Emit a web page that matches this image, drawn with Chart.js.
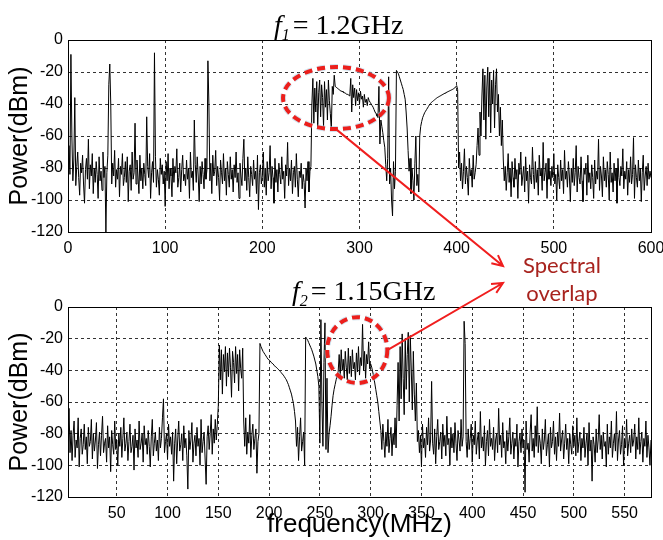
<!DOCTYPE html>
<html>
<head>
<meta charset="utf-8">
<script src="https://cdn.jsdelivr.net/npm/chart.js@4.4.1/dist/chart.umd.min.js"></script>
<style>
body{margin:0;background:#fff;}
#page{position:relative;width:663px;height:540px;overflow:hidden;background:#fff;}
.box{position:absolute;left:0;width:663px;}
.ttl{position:absolute;font-family:"Liberation Serif","Times New Roman",serif;font-size:28px;line-height:28px;color:#000;white-space:nowrap;}
.ttl .sub{position:relative;top:6px;font-size:16px;font-style:italic;margin-right:3px;}
#note{position:absolute;left:512px;top:251px;width:100px;text-align:center;font-family:Lato,"Open Sans",sans-serif;font-size:22px;line-height:28px;color:#a8231e;}
#overlay{position:absolute;left:0;top:0;pointer-events:none;}
</style>
</head>
<body>
<div id="page">
  <div class="box" style="top:0;height:262px"><canvas id="topChart" width="663" height="262"></canvas></div>
  <div class="box" style="top:270px;height:270px"><canvas id="bottomChart" width="663" height="270"></canvas></div>
  <div class="ttl" style="left:274px;top:11px"><i>f</i><span class="sub">1</span>= 1.2GHz</div>
  <div class="ttl" style="left:292px;top:277px"><i>f</i><span class="sub">2</span>= 1.15GHz</div>
  <div id="note">Spectral<br>overlap</div>
  <canvas id="overlay" width="663" height="540"></canvas>
</div>
<script>
// spectrum samples, 1 MHz apart
const stepMHz = 1;

// f1 = 1.2GHz, 0..600 MHz
const topStartMHz = 0;
const topPower = [
  -80,-66,-84,-9,-60,-88,-75,-36,-91,-79,-70,-86,-97,-77,-83,-72,-90,-102,-81,-74,
  -87,-62,-93,-78,-85,-71,-96,-80,-89,-76,-84,-99,-73,-88,-82,-94,-70,-86,-79,-120,
  -83,-72,-28,-15,-40,-90,-77,-85,-69,-92,-81,-87,-74,-98,-79,-84,-71,-91,-86,-76,
  -89,-73,-101,-82,-78,-94,-70,-87,-83,-52,-90,-75,-85,-96,-72,-88,-80,-93,-77,-84,
  -91,-48,-79,-86,-71,-99,-83,-76,-89,-8,-73,-92,-81,-87,-97,-74,-84,-78,-90,-82,
  -104,-76,-88,-71,-93,-80,-85,-98,-74,-89,-79,-83,-68,-92,-86,-77,-95,-81,-72,-88,
  -84,-91,-75,-87,-80,-99,-70,-86,-82,-94,-50,-78,-89,-73,-85,-101,-79,-90,-76,-84,
  -93,-74,-87,-81,-13,-40,-88,-77,-96,-72,-85,-82,-69,-91,-79,-86,-100,-75,-83,-90,
  -71,-88,-80,-97,-76,-84,-92,-73,-87,-81,-95,-78,-86,-70,-89,-83,-99,-77,-85,-91,
  -74,-62,-88,-80,-94,-73,-86,-98,-79,-84,-91,-75,-87,-82,-96,-72,-106,-83,-78,-90,
  -85,-70,-92,-80,-97,-76,-88,-83,-66,-93,-79,-86,-102,-74,-89,-81,-95,-77,-84,-90,
  -73,-87,-82,-99,-78,-85,-64,-91,-80,-88,-75,-96,-83,-79,-92,-71,-87,-98,-82,-86,
  -77,-93,-84,-89,-105,-80,-88,-76,-95,-82,-79,-40,-24,-52,-30,-45,-26,-55,-33,-25,
  -48,-28,-36,-54,-26,-42,-31,-50,-25,-38,-46,-56,-29,-34,-22,-29,-29.5,-30,-30.5,-31,
  -31.5,-32,-32,-32.5,-33,-33,-33.5,-34,-34,-34.5,-35,-24,-45,-28,-36,-30,-41,-31,-38,-33,
  -40,-32,-37,-35,-42,-34,-39,-37,-41,-36,-38,-39,-40,-41,-42,-43.5,-45,-46,-47.5,-48.5,
  -29,-65,-50,-54,-58,-63,-67,-78,-88,-74,-23,-90,-80,-100,-110,-76,-93,-82,-19,-20,
  -21,-23,-25,-27,-29,-31,-34,-37,-45,-55,-69,-82,-74,-96,-80,-88,-100,-77,-60,-91,
  -84,-95,-60,-54,-51,-48.5,-47,-45.5,-44.5,-43.5,-42.5,-41.5,-40.5,-39.7,-39,-38.5,-38,-37.5,-37,-36.5,
  -36,-35.7,-35.3,-35,-34.6,-34.3,-33.9,-33.6,-33.2,-32.9,-32.6,-32.3,-32,-31.7,-31.4,-31.1,-30.8,-30.4,-30,-29.3,
  -28.5,-31,-80,-70,-88,-77,-93,-82,-68,-90,-79,-86,-97,-74,-85,-81,-92,-72,-87,-83,
  -78,-66,-55,-72,-45,-60,-35,-18,-50,-22,-62,-30,-17,-48,-20,-58,-25,-40,-19,-55,
  -28,-18,-45,-34,-60,-42,-66,-50,-75,-88,-79,-94,-83,-71,-89,-80,-98,-76,-86,-92,
  -74,-87,-81,-99,-77,-84,-70,-91,-85,-79,-95,-73,-88,-82,-102,-78,-86,-90,-67,-84,
  -93,-76,-89,-81,-97,-72,-85,-80,-94,-64,-88,-83,-77,-99,-74,-87,-82,-91,-79,-86,
  -71,-90,-84,-100,-78,-86,-93,-75,-88,-81,-96,-69,-87,-82,-92,-76,-85,-101,-80,-89,
  -74,-91,-83,-66,-95,-79,-86,-90,-73,-88,-101,-80,-84,-77,-97,-72,-89,-83,-93,-78,
  -86,-99,-75,-90,-82,-87,-62,-94,-79,-85,-98,-73,-88,-81,-92,-76,-84,-100,-70,-89,
  -83,-95,-77,-88,-80,-102,-74,-86,-91,-79,-85,-68,-93,-82,-87,-76,-97,-81,-89,-73,
  -90,-84,-61,-99,-78,-86,-92,-75,-88,-80,-101,-83,-72,-94,-85,-79,-91,-77,-87,-82,
  -86
];

// f2 = 1.15GHz, 2..576 MHz
const bottomStartMHz = 2;
const bottomPower = [
  -86,-64,-92,-78,-97,-81,-72,-95,-84,-89,-70,-101,-83,-77,-93,-87,-74,-90,
  -82,-99,-76,-88,-85,-71,-96,-80,-91,-84,-73,-102,-87,-79,-94,-81,-69,-92,-86,-83,
  -98,-75,-89,-82,-104,-78,-87,-93,-72,-90,-84,-100,-80,-88,-76,-95,-83,-70,-91,-86,
  -79,-97,-85,-74,-92,-88,-81,-103,-77,-89,-84,-95,-72,-90,-86,-80,-98,-75,-87,-83,
  -93,-78,-88,-101,-82,-71,-94,-86,-79,-91,-84,-97,-76,-89,-83,-70,-58,-92,-85,-80,
  -96,-74,-88,-82,-93,-79,-110,-86,-77,-99,-84,-72,-91,-87,-80,-97,-75,-89,-83,-94,
  -115,-78,-90,-84,-73,-98,-86,-81,-94,-76,-88,-83,-100,-71,-92,-85,-79,-96,-112,-82,
  -75,-90,-80,-68,-93,-77,-86,-71,-84,-74,-62,-24,-46,-27,-55,-30,-41,-25,-50,-29,
  -44,-26,-38,-57,-28,-35,-48,-25,-42,-30,-53,-27,-39,-45,-26,-72,-88,-70,-93,-79,
  -86,-68,-95,-81,-74,-90,-83,-77,-105,-85,-80,-23,-25,-26.5,-28,-29,-30,-31,-32,-33,
  -33.5,-34,-35,-35.5,-36,-37,-37.5,-38,-38.7,-39.3,-40,-40.7,-41.5,-42.3,-43,-44,-45,-46,-47.5,-49,
  -51,-53,-55,-58,-61,-66,-72,-88,-76,-97,-82,-70,-91,-85,-79,-100,-19,-20,-21,-22.5,
  -24,-25.5,-27,-29,-31,-33.5,-36,-40,-44,-50,-86,-8,-60,-88,-35,-10,-90,-45,-92,-80,
  -75,-69,-62,-56,-52,-49,-46,-43,-41,-30,-44,-27,-40,-33,-45,-28,-38,-46,-26,-42,
  -31,-44,-27,-39,-35,-46,-29,-41,-25,-43,-32,-37,-11,-40,-28,-45,-30,-36,-22,-39,
  -36,-38,-41,-44,-48,-52,-56,-60,-66,-72,-78,-90,-74,-85,-95,-79,-88,-71,-92,-83,
  -76,-94,-80,-87,-70,-89,-62,-35,-72,-25,-58,-17,-45,-68,-20,-52,-30,-16,-60,-18,
  -40,-65,-28,-55,-72,-48,-85,-78,-92,-81,-101,-74,-89,-83,-95,-76,-87,-70,-91,-84,
  -47,-86,-93,-77,-99,-82,-71,-90,-85,-79,-96,-74,-88,-81,-94,-69,-87,-83,-100,-76,
  -89,-80,-92,-73,-86,-97,-78,-84,-91,-71,-88,-82,-9,-23,-85,-95,-77,-90,-83,-74,
  -98,-81,-87,-72,-93,-84,-79,-96,-66,-89,-82,-91,-75,-100,-85,-78,-94,-71,-88,-83,
  -90,-76,-97,-84,-80,-92,-64,-87,-81,-95,-73,-89,-85,-99,-78,-91,-82,-70,-93,-86,
  -79,-96,-83,-88,-74,-101,-85,-80,-92,-77,-89,-84,-117,-72,-90,-86,-98,-79,-68,-91,
  -83,-95,-75,-88,-63,-92,-81,-86,-99,-77,-90,-84,-71,-94,-87,-80,-101,-76,-89,-85,
  -72,-93,-82,-97,-79,-88,-67,-91,-84,-78,-96,-86,-74,-90,-83,-99,-80,-87,-93,-75,
  -88,-81,-94,-70,-92,-85,-79,-97,-83,-89,-76,-95,-86,-80,-100,-73,-91,-84,-110,-82,
  -87,-98,-77,-92,-84,-68,-90,-81,-96,-79,-88,-85,-101,-74,-93,-82,-89,-72,-95,-86,
  -80,-91,-66,-97,-84,-78,-93,-87,-75,-100,-83,-89,-71,-94,-86,-81,-92,-77,-88,-84,
  -74,-96,-82,-90,-70,-93,-85,-79,-98,-83,-88,-72,-95,-81,-89,-100,-84
];

const topRange = [0, 600];
const bottomRange = [2, 576];
const topXTicks = [0, 100, 200, 300, 400, 500, 600];
const bottomXTicks = [50, 100, 150, 200, 250, 300, 350, 400, 450, 500, 550];
const yTicks = [0, -20, -40, -60, -80, -100, -120];

const sans = '"Liberation Sans", Arial, sans-serif';

// solid box round the plot, like matlab
const frame = {
  id: 'frame',
  afterDatasetsDraw(chart) {
    const ctx = chart.ctx, a = chart.chartArea;
    ctx.save();
    ctx.strokeStyle = '#000';
    ctx.lineWidth = 1;
    ctx.strokeRect(Math.round(a.left) + 0.5, Math.round(a.top) + 0.5,
      Math.round(a.right - a.left), Math.round(a.bottom - a.top));
    ctx.restore();
  }
};

function toPoints(start, values) {
  return values.map((p, i) => ({ x: start + i * stepMHz, y: p }));
}

function makeChart(id, points, range, xTicks, xTitle, padTop, axisH) {
  return new Chart(document.getElementById(id), {
    type: 'line',
    data: {
      datasets: [{
        data: points,
        borderColor: '#000',
        borderWidth: 1,
        pointRadius: 0,
        tension: 0,
        fill: false
      }]
    },
    options: {
      responsive: false,
      animation: false,
      events: [],
      layout: { padding: { top: padTop, right: 12, left: 0, bottom: 0 } },
      plugins: { legend: { display: false }, tooltip: { enabled: false } },
      scales: {
        x: {
          type: 'linear',
          min: range[0],
          max: range[1],
          afterBuildTicks: s => { s.ticks = xTicks.map(v => ({ value: v })); },
          afterFit: s => { s.height = axisH; s.paddingLeft = 0; s.paddingRight = 0; },
          grid: { color: '#333', lineWidth: 1, drawTicks: false },
          border: { display: true, color: '#000', width: 1, dash: [3, 3] },
          ticks: { color: '#000', padding: 7, maxRotation: 0, autoSkip: false, font: { family: sans, size: 16 } },
          title: { display: !!xTitle, text: xTitle, color: '#000', padding: { top: 0, bottom: 2 }, font: { family: sans, size: 26, lineHeight: 1 } }
        },
        y: {
          min: -120,
          max: 0,
          afterBuildTicks: s => { s.ticks = yTicks.map(v => ({ value: v })); },
          afterFit: s => { s.width = 68; s.paddingTop = 0; s.paddingBottom = 0; },
          grid: { color: '#333', lineWidth: 1, drawTicks: false },
          border: { display: true, color: '#000', width: 1, dash: [3, 3] },
          ticks: { color: '#000', padding: 5, font: { family: sans, size: 16 } },
          title: { display: true, text: 'Power(dBm)', color: '#000', padding: { top: 5, bottom: 0 }, font: { family: sans, size: 25 } }
        }
      }
    },
    plugins: [frame]
  });
}

const topChart = makeChart('topChart', toPoints(topStartMHz, topPower), topRange, topXTicks, '', 40, 30);
const bottomChart = makeChart('bottomChart', toPoints(bottomStartMHz, bottomPower), bottomRange, bottomXTicks, 'frequency(MHz)', 37, 43);

// annotation: dashed ellipses + arrows to the note
const ov = document.getElementById('overlay');
const octx = ov.getContext('2d');

function toPage(chart, mhz, dbm) {
  const top = chart.canvas.parentNode.offsetTop;
  return { x: chart.scales.x.getPixelForValue(mhz), y: top + chart.scales.y.getPixelForValue(dbm) };
}

function ellipse(chart, mhz, dbm, rMHz, rDb) {
  const c = toPage(chart, mhz, dbm);
  const e = toPage(chart, mhz + rMHz, dbm - rDb);
  const rx = Math.abs(e.x - c.x), ry = Math.abs(e.y - c.y);
  octx.save();
  octx.setLineDash([8, 5]);
  octx.beginPath();
  octx.ellipse(c.x, c.y, rx, ry, 0, 0, Math.PI * 2);
  octx.lineWidth = 6;
  octx.strokeStyle = 'rgba(170,205,225,0.55)';
  octx.stroke();
  octx.lineWidth = 4;
  octx.strokeStyle = '#ec1f1c';
  octx.stroke();
  octx.restore();
  return { c: c, rx: rx, ry: ry };
}

function arrow(x1, y1, x2, y2) {
  const ang = Math.atan2(y2 - y1, x2 - x1);
  const len = 12;
  octx.save();
  octx.strokeStyle = '#f01e1e';
  octx.lineWidth = 2;
  octx.beginPath();
  octx.moveTo(x1, y1);
  octx.lineTo(x2, y2);
  octx.moveTo(x2 - len * Math.cos(ang - 0.45), y2 - len * Math.sin(ang - 0.45));
  octx.lineTo(x2, y2);
  octx.lineTo(x2 - len * Math.cos(ang + 0.45), y2 - len * Math.sin(ang + 0.45));
  octx.stroke();
  octx.restore();
}

const e1 = ellipse(topChart, 275.8, -36.3, 54.5, 19.4);
const e2 = ellipse(bottomChart, 286.8, -27.2, 29.6, 20.8);

const note = document.getElementById('note');
const tipX = note.offsetLeft - 9;
arrow(e1.c.x, e1.c.y + e1.ry, tipX, note.offsetTop + 15);
arrow(e2.c.x + e2.rx, e2.c.y, tipX, note.offsetTop + 32);
</script>
</body>
</html>
